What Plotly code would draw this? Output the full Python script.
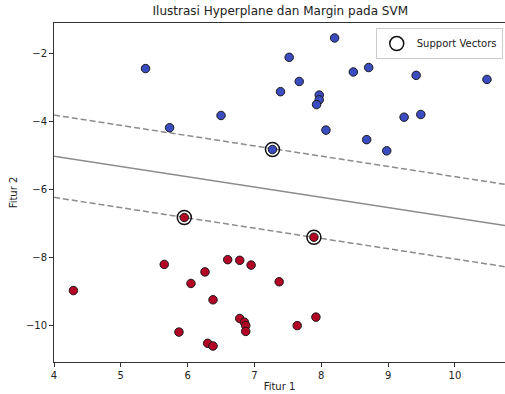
import plotly.graph_objects as go

# Class 0 (blue)
blue_x = [5.37, 8.20, 7.52, 7.67, 7.39, 7.97, 7.97, 7.93, 8.48, 8.71, 9.42, 10.48,
          6.50, 5.73, 8.07, 9.24, 9.49, 8.68, 8.98, 7.27]
blue_y = [-2.43, -1.53, -2.10, -2.81, -3.11, -3.21, -3.35, -3.49, -2.53, -2.40, -2.63, -2.75,
          -3.81, -4.17, -4.24, -3.86, -3.78, -4.52, -4.85, -4.81]

# Class 1 (red)
red_x = [5.95, 7.89, 5.65, 6.60, 6.78, 6.95, 6.26, 6.05, 7.37, 4.29, 6.38, 6.78,
         6.85, 6.87, 6.87, 7.92, 7.64, 5.87, 6.30, 6.38]
red_y = [-6.81, -7.39, -8.19, -8.05, -8.07, -8.21, -8.41, -8.75, -8.70, -8.96, -9.23, -9.78,
         -9.89, -9.99, -10.16, -9.74, -9.99, -10.18, -10.51, -10.59]

# Support vectors
sv_x = [7.27, 5.95, 7.89]
sv_y = [-4.81, -6.81, -7.39]

# Hyperplane y = slope * x + intercept, margins at +/- offset
hp_slope = -0.302
hp_intercept = -3.80
margin_offset = 1.21

x_range = [4.0, 10.75]
y_range = [-11.06, -1.09]

line_x = x_range
hp_y = [hp_slope * v + hp_intercept for v in line_x]
up_y = [hp_slope * v + hp_intercept + margin_offset for v in line_x]
lo_y = [hp_slope * v + hp_intercept - margin_offset for v in line_x]

fig = go.Figure()
line_col = "#8c8c8c"
fig.add_trace(go.Scatter(x=line_x, y=up_y, mode="lines", showlegend=False,
                         line=dict(color=line_col, width=1.5, dash="6px,3px")))
fig.add_trace(go.Scatter(x=line_x, y=hp_y, mode="lines", showlegend=False,
                         line=dict(color=line_col, width=1.5)))
fig.add_trace(go.Scatter(x=line_x, y=lo_y, mode="lines", showlegend=False,
                         line=dict(color=line_col, width=1.5, dash="6px,3px")))

fig.add_trace(go.Scatter(x=blue_x, y=blue_y, mode="markers", showlegend=False,
                         marker=dict(size=8.5, color="#3b4cc0", line=dict(color="#1a1a1a", width=1))))
fig.add_trace(go.Scatter(x=red_x, y=red_y, mode="markers", showlegend=False,
                         marker=dict(size=8.5, color="#b40426", line=dict(color="#1a1a1a", width=1))))
fig.add_trace(go.Scatter(x=sv_x, y=sv_y, mode="markers", name="Support Vectors",
                         marker=dict(size=14, color="#111111", symbol="circle-open",
                                     line=dict(color="#111111", width=1.5))))

axis_common = dict(
    showgrid=False, zeroline=False, showline=True, mirror=True,
    linecolor="#333333", linewidth=1, ticks="outside", ticklen=4, tickwidth=1,
    tickcolor="#333333", tickfont=dict(family="DejaVu Sans", size=10, color="#222222"),
    automargin=False,
)

fig.update_layout(
    width=505, height=394,
    margin=dict(l=54, r=0, t=23, b=32),
    paper_bgcolor="white", plot_bgcolor="white",
    title=dict(text="Ilustrasi Hyperplane dan Margin pada SVM", x=0.555, xanchor="center",
               y=0.972, yanchor="middle",
               font=dict(family="DejaVu Sans", size=12, color="#222222")),
    xaxis=dict(range=x_range, tickvals=[4, 5, 6, 7, 8, 9, 10],
               title=dict(text="Fitur 1", font=dict(family="DejaVu Sans", size=10, color="#222222"),
                          standoff=2),
               **axis_common),
    yaxis=dict(range=y_range, tickvals=[-2, -4, -6, -8, -10],
               tickformat="d",
               title=dict(text="Fitur 2", font=dict(family="DejaVu Sans", size=10, color="#222222"),
                          standoff=6),
               **axis_common),
    legend=dict(x=0.995, y=0.985, xanchor="right", yanchor="top",
                bgcolor="white", bordercolor="#cccccc", borderwidth=1,
                font=dict(family="DejaVu Sans", size=10, color="#222222")),
)

fig.write_html("out.html", config={"displayModeBar": False},
               post_script="document.body.style.margin='0';")
